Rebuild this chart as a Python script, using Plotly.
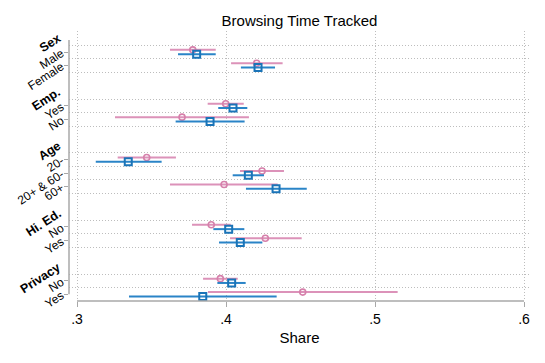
import plotly.graph_objects as go

# Category rows (top to bottom) and their slot positions on the y axis
labels = ["Male", "Female", "Yes", "No", "20-", "20+ & 60-", "60+", "No", "Yes", "No", "Yes"]
rows = [0, 1, 4, 5, 8, 9, 10, 13, 14, 17, 18]

# Group headings and their slots
headings = ["Sex", "Emp.", "Age", "Hi. Ed.", "Privacy"]
heading_rows = [-1, 3, 7, 12, 16]

# Series A (pink circles): point estimate and confidence bounds
a_est = [0.3777, 0.4206, 0.3998, 0.3705, 0.3468, 0.4242, 0.3987, 0.3901, 0.4264, 0.3962, 0.4515]
a_lo = [0.3624, 0.4034, 0.3877, 0.3255, 0.3273, 0.4094, 0.3624, 0.3772, 0.4027, 0.3846, 0.3879]
a_hi = [0.3931, 0.4380, 0.4119, 0.4154, 0.3664, 0.4389, 0.4347, 0.4032, 0.4508, 0.4079, 0.5152]

# Series B (blue squares)
b_est = [0.3803, 0.4215, 0.4047, 0.3893, 0.3344, 0.4150, 0.4336, 0.4018, 0.4096, 0.4038, 0.3844]
b_lo = [0.3678, 0.4100, 0.3948, 0.3662, 0.3126, 0.4045, 0.4134, 0.3915, 0.3953, 0.3942, 0.3349]
b_hi = [0.3931, 0.4329, 0.4143, 0.4125, 0.3568, 0.4255, 0.4542, 0.4123, 0.4244, 0.4132, 0.4340]

x_ticks = [0.3, 0.4, 0.5, 0.6]
x_ticktext = [".3", ".4", ".5", ".6"]

PINK = "#d680ab"
PINK_LINE = "#dc92b9"
BLUE = "#1a74b8"
BLUE_LINE = "#2a84c7"
GRID = "#bdbdbd"
AXIS = "#a8a8a8"
FONT = "Liberation Sans, Arial, sans-serif"

Y_TOP, Y_BOTTOM = -1.56, 18.5

fig = go.Figure()

fig.add_trace(go.Scatter(
    x=a_est, y=[r - 0.16 for r in rows], mode="markers", name="A",
    marker=dict(symbol="circle-open", size=6, color=PINK, line=dict(width=1.6)),
    error_x=dict(type="data", symmetric=False,
                 array=[h - e for h, e in zip(a_hi, a_est)],
                 arrayminus=[e - l for e, l in zip(a_est, a_lo)],
                 color=PINK_LINE, thickness=2, width=0),
))
fig.add_trace(go.Scatter(
    x=b_est, y=[r + 0.16 for r in rows], mode="markers", name="B",
    marker=dict(symbol="square-open", size=7, color=BLUE, line=dict(width=2)),
    error_x=dict(type="data", symmetric=False,
                 array=[h - e for h, e in zip(b_hi, b_est)],
                 arrayminus=[e - l for e, l in zip(b_est, b_lo)],
                 color=BLUE_LINE, thickness=2, width=0),
))

# grid lines sit on the boundaries between rows
bounds = []
for start, n in [(0, 2), (4, 2), (8, 3), (13, 2), (17, 2)]:
    bounds += [start - 0.5 + k for k in range(n + 1)]

# the page body adds an 8px margin, so the figure is drawn 8px smaller/shifted
fig.update_layout(
    width=537, height=355,
    margin=dict(l=61, r=15, t=23, b=62),
    plot_bgcolor="white", paper_bgcolor="white",
    showlegend=False,
    font=dict(family=FONT, color="black"),
    title=dict(text="Browsing Time Tracked", x=0.5, xref="paper", xanchor="center",
               y=1 - 13 / 355, yanchor="middle", font=dict(size=15)),
    xaxis=dict(range=[0.29463, 0.60403], tickvals=x_ticks, ticktext=x_ticktext,
               ticks="outside", ticklen=5, tickcolor=AXIS, tickwidth=1.3,
               tickfont=dict(size=14), showline=False, zeroline=False, automargin=False,
               showgrid=True, gridcolor=GRID, griddash="1px,2px", gridwidth=1,
               title=dict(text="Share", font=dict(size=15), standoff=6)),
    yaxis=dict(range=[Y_BOTTOM, Y_TOP], tickvals=rows, ticktext=labels, tickangle=-33,
               ticks="outside", ticklen=4, tickcolor=AXIS, tickwidth=1.3, automargin=False,
               tickfont=dict(size=12), showline=False, zeroline=False, showgrid=False,
               minor=dict(tickmode="array", tickvals=bounds, showgrid=True, gridcolor=GRID,
                          griddash="1px,2px", gridwidth=1, ticks="")),
)

# axis lines only span the tick range
fig.add_shape(type="line", xref="paper", yref="y", x0=0, x1=0, y0=-0.9, y1=18,
              line=dict(color=AXIS, width=1.5))
fig.add_shape(type="line", xref="x", yref="paper", x0=0.3, x1=0.6, y0=0, y1=0,
              line=dict(color=AXIS, width=1.5))

# headings use paper coords so the top one is not hidden above the axis range
for h, r in zip(headings, heading_rows):
    py = (Y_BOTTOM - (r - 0.75)) / (Y_BOTTOM - Y_TOP)
    fig.add_annotation(text="<b>" + h + "</b>", xref="paper", yref="paper", x=-0.006, y=py,
                       xanchor="right", yanchor="top", textangle=-33, showarrow=False,
                       font=dict(size=12.5, color="black"))

fig.write_html("out.html")
